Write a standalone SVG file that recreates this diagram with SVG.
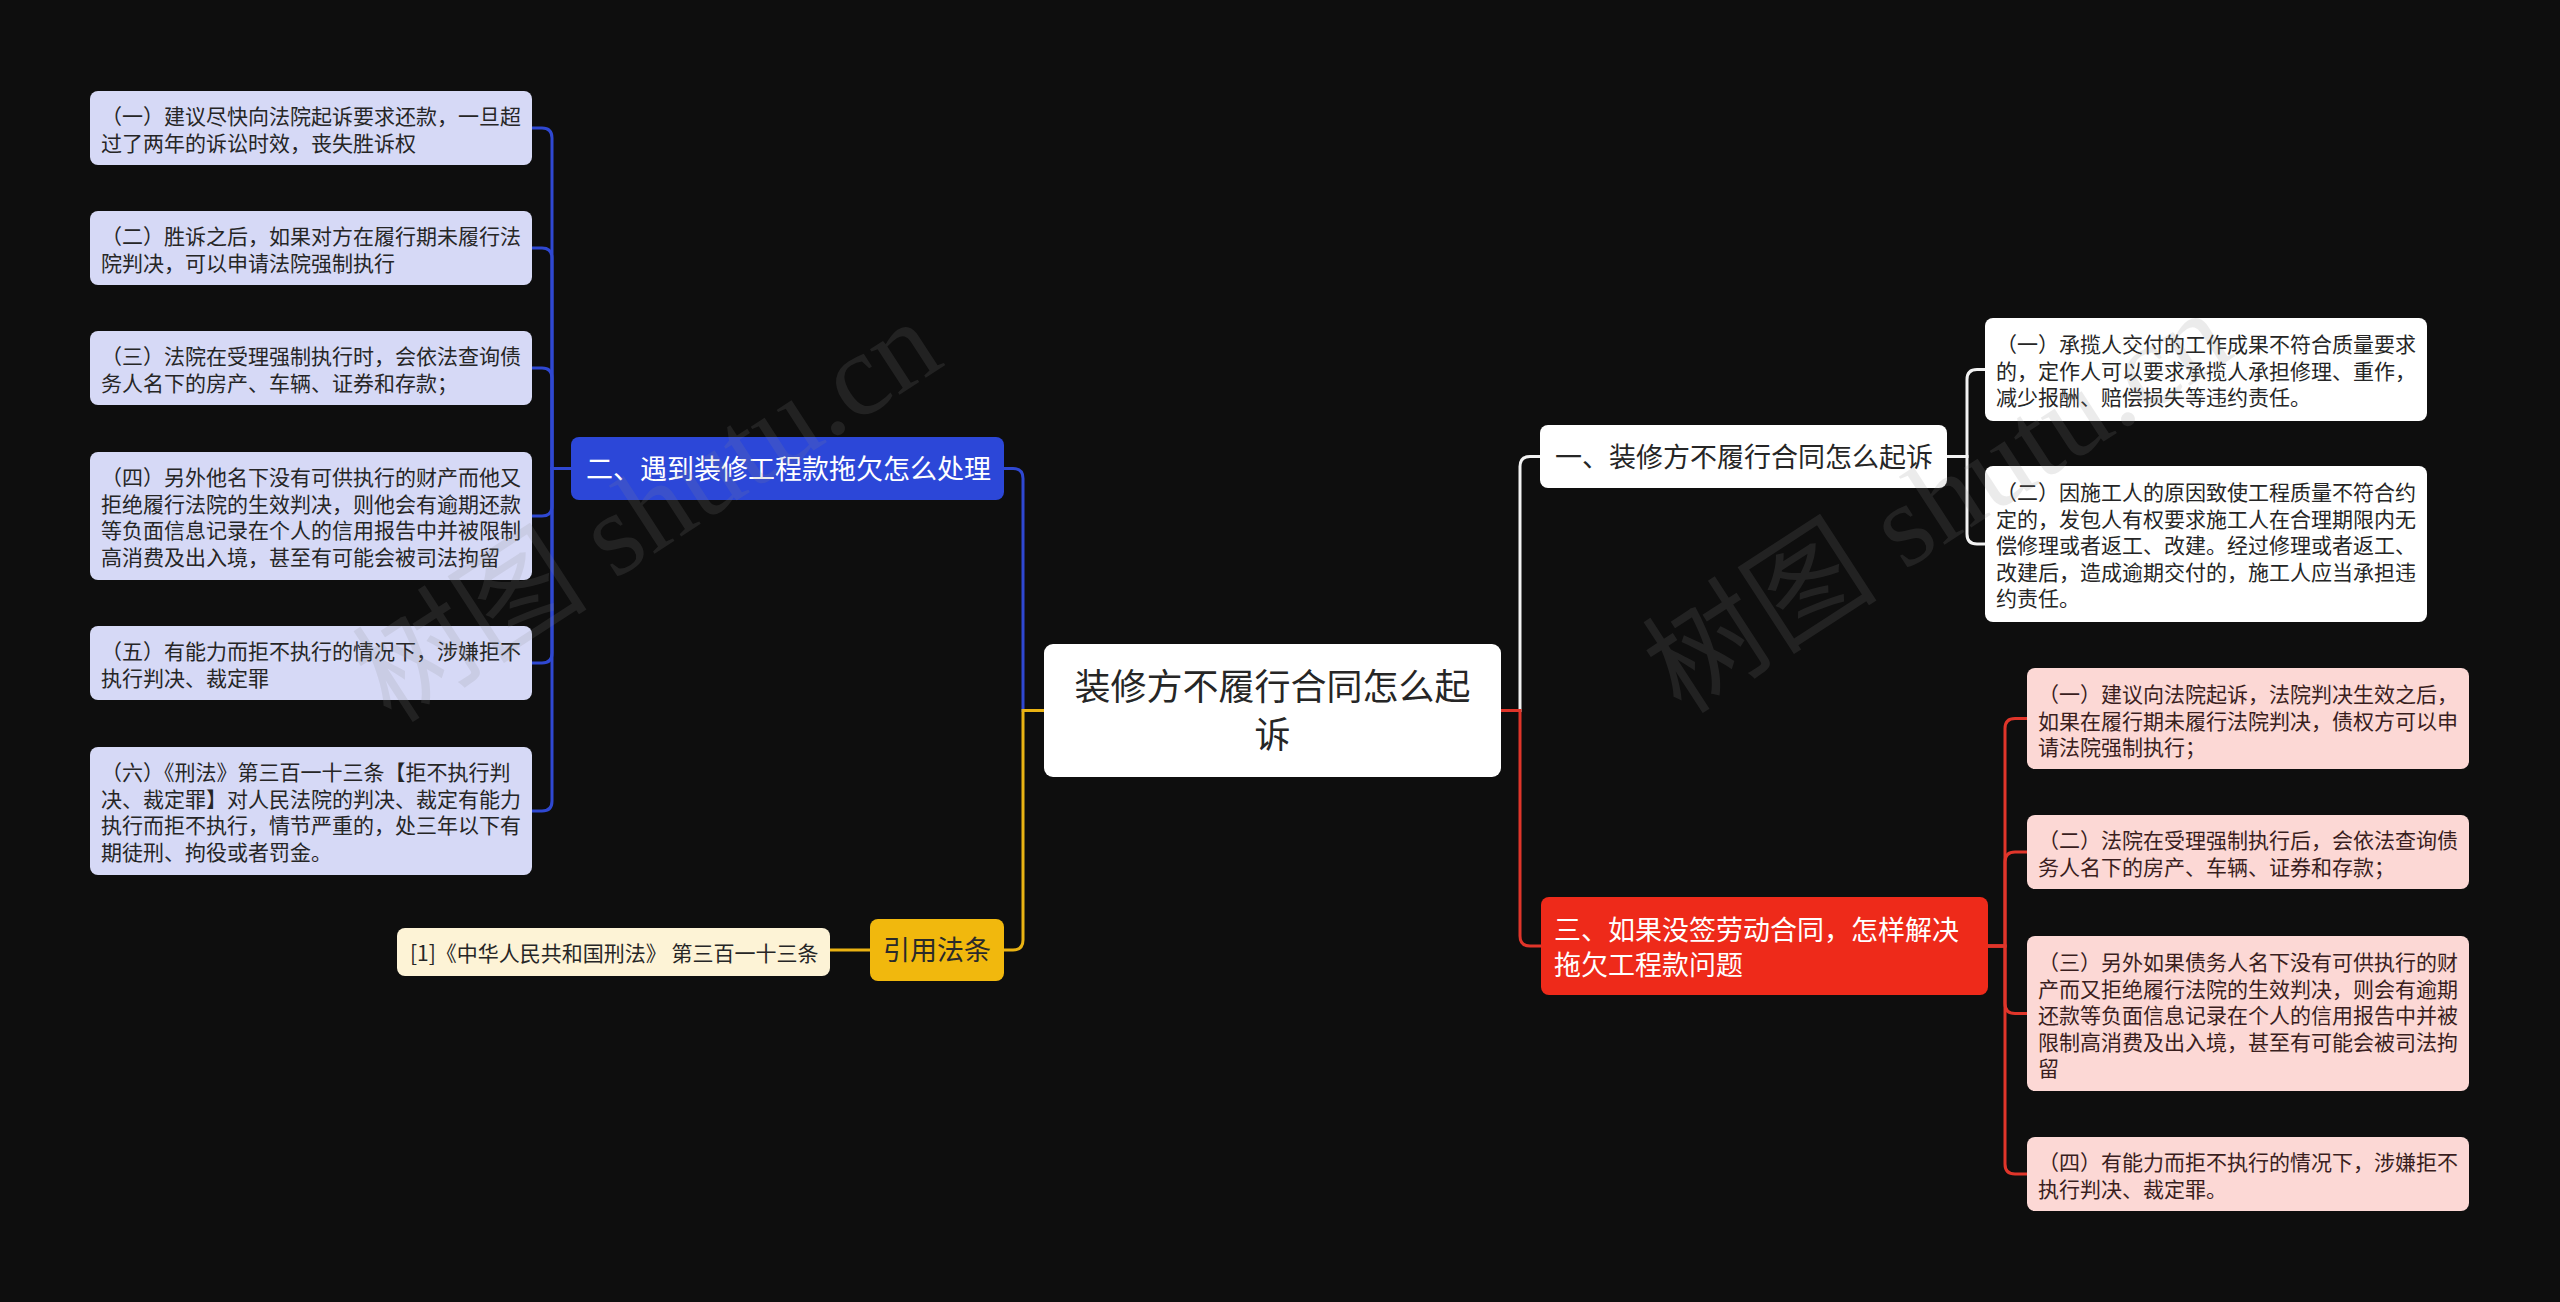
<svg xmlns="http://www.w3.org/2000/svg" width="2560" height="1302" viewBox="0 0 2560 1302">
<style>
text{font-family:"Noto Sans CJK SC","Noto Sans",sans-serif;}
.c{font-size:21px;fill:#262626;}
.cr{font-size:21px;fill:#3a1e1e;}
.h{font-size:27px;}
.ln{fill:none;stroke-width:3;stroke-linecap:round;}
.blue{stroke:#2f48d2;}
.white{stroke:#f2f2f2;}
.red{stroke:#e0352a;}
.yel{stroke:#eab313;}
.bl{fill:#d6d9f6;}
.wh{fill:#ffffff;}
.pk{fill:#fcd8d5;}
.wm{font-family:"Liberation Serif","Noto Sans CJK SC",serif;font-size:118px;fill:#8a8a8a;opacity:0.16;}
</style>
<rect x="0" y="0" width="2560" height="1302" fill="#0e0e0e"/>

<g id="connectors">
  <path class="ln blue" d="M1044,710.5 H1023 V478.5 Q1023,468.5 1013,468.5 H1004"/>
  <path class="ln white" d="M1501,710.5 H1520 V466.5 Q1520,456.5 1530,456.5 H1540"/>
  <path class="ln yel" d="M1044,710.5 H1023 V940 Q1023,950 1013,950 H1004"/>
  <path class="ln red" d="M1501,710.5 H1520 V936 Q1520,946 1530,946 H1541"/>
  <path class="ln blue" d="M571,468.5 H552 V138 Q552,128 542,128 H532"/>
  <path class="ln blue" d="M571,468.5 H552 V258 Q552,248 542,248 H532"/>
  <path class="ln blue" d="M571,468.5 H552 V378 Q552,368 542,368 H532"/>
  <path class="ln blue" d="M571,468.5 H552 V506 Q552,516 542,516 H532"/>
  <path class="ln blue" d="M571,468.5 H552 V653 Q552,663 542,663 H532"/>
  <path class="ln blue" d="M571,468.5 H552 V801 Q552,811 542,811 H532"/>
  <path class="ln white" d="M1947,456.5 H1967 V379.5 Q1967,369.5 1977,369.5 H1985"/>
  <path class="ln white" d="M1947,456.5 H1967 V534 Q1967,544 1977,544 H1985"/>
  <path class="ln red" d="M1988,946 H2005 V728.5 Q2005,718.5 2015,718.5 H2027"/>
  <path class="ln red" d="M1988,946 H2005 V862 Q2005,852 2015,852 H2027"/>
  <path class="ln red" d="M1988,946 H2005 V1003.5 Q2005,1013.5 2015,1013.5 H2027"/>
  <path class="ln red" d="M1988,946 H2005 V1164 Q2005,1174 2015,1174 H2027"/>
  <path class="ln yel" d="M870,950 H830"/>
</g>

<g id="root">
  <rect x="1044" y="644" width="457" height="133" rx="9" fill="#ffffff"/>
  <text x="1272.5" y="700" font-size="36" fill="#262626" text-anchor="middle">装修方不履行合同怎么起</text>
  <text x="1272.5" y="748" font-size="36" fill="#262626" text-anchor="middle">诉</text>
</g>

<g id="n1">
  <rect x="1540" y="425" width="407" height="63" rx="8" fill="#ffffff"/>
  <text class="h" x="1555" y="467" fill="#262626">一、装修方不履行合同怎么起诉</text>
</g>
<g id="n2">
  <rect x="571" y="437" width="433" height="63" rx="8" fill="#2c47d8"/>
  <text class="h" x="586" y="479" fill="#ffffff">二、遇到装修工程款拖欠怎么处理</text>
</g>
<g id="n3">
  <rect x="1541" y="897" width="447" height="98" rx="8" fill="#ee2a1a"/>
  <text class="h" x="1554" y="940" fill="#ffffff">三、如果没签劳动合同，怎样解决</text>
  <text class="h" x="1554" y="975" fill="#ffffff">拖欠工程款问题</text>
</g>
<g id="n4">
  <rect x="870" y="919" width="134" height="62" rx="8" fill="#f1b80d"/>
  <text class="h" x="883" y="960" fill="#2a2a2a">引用法条</text>
</g>
<g id="n4-1">
  <rect x="397" y="928" width="433" height="48" rx="8" fill="#fdf3d6"/>
  <text class="c" x="410" y="961">[1]《中华人民共和国刑法》 第三百一十三条</text>
</g>

<g id="n2-1">
  <rect class="bl" x="90" y="91" width="442" height="74" rx="8"/>
  <text class="c" x="101" y="124">（一）建议尽快向法院起诉要求还款，一旦超</text>
  <text class="c" x="101" y="150.5">过了两年的诉讼时效，丧失胜诉权</text>
</g>
<g id="n2-2">
  <rect class="bl" x="90" y="211" width="442" height="74" rx="8"/>
  <text class="c" x="101" y="244">（二）胜诉之后，如果对方在履行期未履行法</text>
  <text class="c" x="101" y="270.5">院判决，可以申请法院强制执行</text>
</g>
<g id="n2-3">
  <rect class="bl" x="90" y="331" width="442" height="74" rx="8"/>
  <text class="c" x="101" y="364">（三）法院在受理强制执行时，会依法查询债</text>
  <text class="c" x="101" y="390.5">务人名下的房产、车辆、证券和存款；</text>
</g>
<g id="n2-4">
  <rect class="bl" x="90" y="452" width="442" height="128" rx="8"/>
  <text class="c" x="101" y="485">（四）另外他名下没有可供执行的财产而他又</text>
  <text class="c" x="101" y="511.5">拒绝履行法院的生效判决，则他会有逾期还款</text>
  <text class="c" x="101" y="538">等负面信息记录在个人的信用报告中并被限制</text>
  <text class="c" x="101" y="564.5">高消费及出入境，甚至有可能会被司法拘留</text>
</g>
<g id="n2-5">
  <rect class="bl" x="90" y="626" width="442" height="74" rx="8"/>
  <text class="c" x="101" y="659">（五）有能力而拒不执行的情况下，涉嫌拒不</text>
  <text class="c" x="101" y="685.5">执行判决、裁定罪</text>
</g>
<g id="n2-6">
  <rect class="bl" x="90" y="747" width="442" height="128" rx="8"/>
  <text class="c" x="101" y="780">（六）《刑法》第三百一十三条【拒不执行判</text>
  <text class="c" x="101" y="806.5">决、裁定罪】对人民法院的判决、裁定有能力</text>
  <text class="c" x="101" y="833">执行而拒不执行，情节严重的，处三年以下有</text>
  <text class="c" x="101" y="859.5">期徒刑、拘役或者罚金。</text>
</g>

<g id="n1-1">
  <rect class="wh" x="1985" y="318" width="442" height="103" rx="8"/>
  <text class="c" x="1996" y="352">（一）承揽人交付的工作成果不符合质量要求</text>
  <text class="c" x="1996" y="378.5">的，定作人可以要求承揽人承担修理、重作，</text>
  <text class="c" x="1996" y="405">减少报酬、赔偿损失等违约责任。</text>
</g>
<g id="n1-2">
  <rect class="wh" x="1985" y="466" width="442" height="156" rx="8"/>
  <text class="c" x="1996" y="500">（二）因施工人的原因致使工程质量不符合约</text>
  <text class="c" x="1996" y="526.5">定的，发包人有权要求施工人在合理期限内无</text>
  <text class="c" x="1996" y="553">偿修理或者返工、改建。经过修理或者返工、</text>
  <text class="c" x="1996" y="579.5">改建后，造成逾期交付的，施工人应当承担违</text>
  <text class="c" x="1996" y="606">约责任。</text>
</g>

<g id="n3-1">
  <rect class="pk" x="2027" y="668" width="442" height="101" rx="8"/>
  <text class="cr" x="2038" y="702">（一）建议向法院起诉，法院判决生效之后，</text>
  <text class="cr" x="2038" y="728.5">如果在履行期未履行法院判决，债权方可以申</text>
  <text class="cr" x="2038" y="755">请法院强制执行；</text>
</g>
<g id="n3-2">
  <rect class="pk" x="2027" y="815" width="442" height="74" rx="8"/>
  <text class="cr" x="2038" y="848">（二）法院在受理强制执行后，会依法查询债</text>
  <text class="cr" x="2038" y="874.5">务人名下的房产、车辆、证券和存款；</text>
</g>
<g id="n3-3">
  <rect class="pk" x="2027" y="936" width="442" height="155" rx="8"/>
  <text class="cr" x="2038" y="970">（三）另外如果债务人名下没有可供执行的财</text>
  <text class="cr" x="2038" y="996.5">产而又拒绝履行法院的生效判决，则会有逾期</text>
  <text class="cr" x="2038" y="1023">还款等负面信息记录在个人的信用报告中并被</text>
  <text class="cr" x="2038" y="1049.5">限制高消费及出入境，甚至有可能会被司法拘</text>
  <text class="cr" x="2038" y="1076">留</text>
</g>
<g id="n3-4">
  <rect class="pk" x="2027" y="1137" width="442" height="74" rx="8"/>
  <text class="cr" x="2038" y="1170">（四）有能力而拒不执行的情况下，涉嫌拒不</text>
  <text class="cr" x="2038" y="1196.5">执行判决、裁定罪。</text>
</g>

<g id="watermark">
  <text class="wm" x="650" y="550" text-anchor="middle" transform="rotate(-33 650 515)">树图 shutu.cn</text>
  <text class="wm" x="1940" y="541" text-anchor="middle" transform="rotate(-33 1940 506)">树图 shutu.cn</text>
</g>
</svg>
